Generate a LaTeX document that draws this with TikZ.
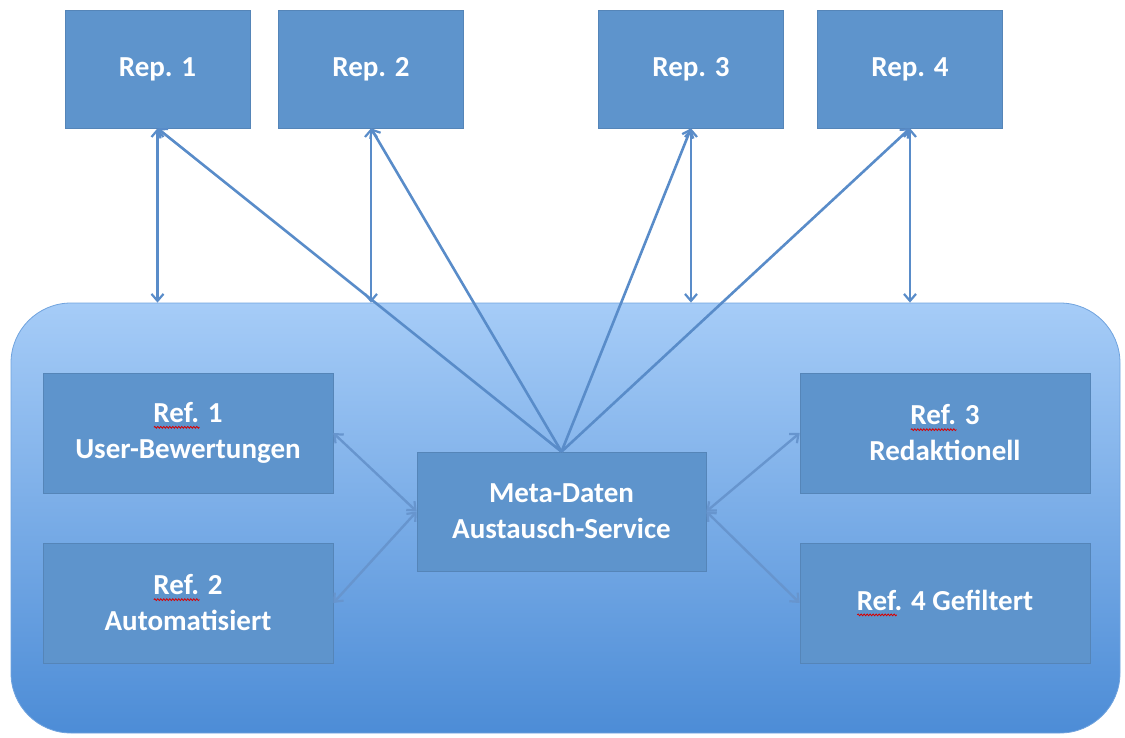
\documentclass[tikz,border=0pt]{standalone}
\usepackage{fontspec}
\setmainfont{Carlito}
\usetikzlibrary{arrows.meta,decorations.pathmorphing}

% red spell-check wave under a word
\newlength{\spellwd}
\newcommand{\spellwave}[1]{\settowidth{\spellwd}{#1}%
  \rlap{\raisebox{-6pt}{\tikz[x=1pt,y=1pt]\draw[red!85!black,line width=0.8pt,
    decorate,decoration={snake,amplitude=0.9pt,segment length=3pt}]
    (0,0) -- (\spellwd,0);}}#1}

\begin{document}
\begin{tikzpicture}[x=1pt,y=-1pt,
    box/.style={fill=boxcol,text=white,font=\fontsize{29}{36}\selectfont\bfseries,
      align=center,inner sep=0pt,draw=boxcol!90!black,line width=0.6pt},
    link/.style={draw=linecol,line width=2.6pt,
      arrows={-Straight Barb[length=7pt,width=12pt,line width=2.2pt]}},
    duallink/.style={draw=linecol,line width=2.6pt,
      arrows={Straight Barb[length=7pt,width=12pt,line width=2.2pt]-Straight Barb[length=7pt,width=12pt,line width=2.2pt]}},
    inlink/.style={duallink,draw=linecol!92!white,line width=2.4pt}]

  \definecolor{boxcol}{rgb}{0.37,0.58,0.80}
  \definecolor{linecol}{rgb}{0.35,0.55,0.79}
  \definecolor{hubtop}{rgb}{0.65,0.80,0.97}
  \definecolor{hubbot}{rgb}{0.30,0.55,0.84}

  \useasboundingbox (0,0) rectangle (1125,738);

  % the big service area
  \node[draw=hubbot!80!white,line width=0.8pt,rounded corners=60pt,
    top color=hubtop,bottom color=hubbot,
    minimum width=1109pt,minimum height=430pt,inner sep=0pt]
    (hub) at (565.5,518) {};

  % repositories
  \node[box,minimum width=185pt,minimum height=118pt] (rep1) at (157.5,69) {Rep. 1};
  \node[box,minimum width=185pt,minimum height=118pt] (rep2) at (371,69) {Rep. 2};
  \node[box,minimum width=185pt,minimum height=118pt] (rep3) at (691,69) {Rep. 3};
  \node[box,minimum width=185pt,minimum height=118pt] (rep4) at (910,69) {Rep. 4};

  % referrers and exchange service
  \node[box,minimum width=290pt,minimum height=120pt] (ref1) at (188,433)
    {\spellwave{Ref.} 1\\User-Bewertungen};
  \node[box,minimum width=290pt,minimum height=120pt] (ref2) at (188,603)
    {\spellwave{Ref.} 2\\Automatisiert};
  \node[box,minimum width=290pt,minimum height=120pt] (ref3) at (945,433)
    {\spellwave{Ref.} 3\\Redaktionell};
  \node[box,minimum width=290pt,minimum height=120pt] (ref4) at (945,603)
    {\spellwave{Ref}. 4 Gefiltert};
  \node[box,minimum width=289pt,minimum height=119pt] (meta) at (561.5,511.5)
    {Meta-Daten\\Austausch-Service};

  % rep <-> hub
  \foreach \r in {rep1,rep2,rep3,rep4}
    \draw[duallink] (\r.south) -- (\r.south |- hub.north);

  % service -> reps
  \foreach \r in {rep1,rep2,rep3,rep4}
    \draw[link] (meta.north) -- (\r.south);

  % referrers <-> service
  \draw[inlink] (ref1.east) -- (meta.west);
  \draw[inlink] (ref2.east) -- (meta.west);
  \draw[inlink] (meta.east) -- (ref3.west);
  \draw[inlink] (meta.east) -- (ref4.west);

\end{tikzpicture}
\end{document}
